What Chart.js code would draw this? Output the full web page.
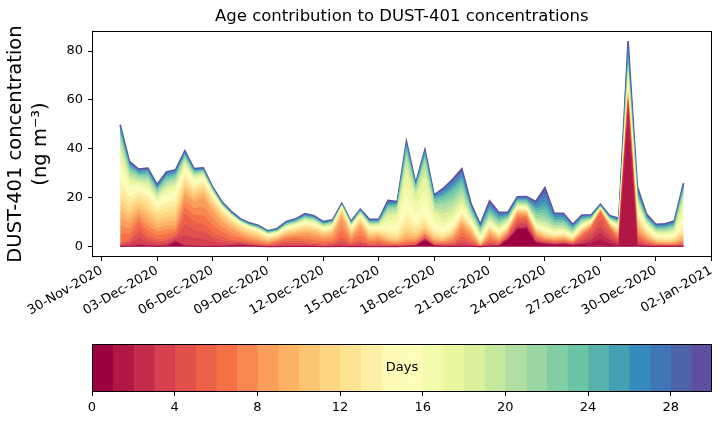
<!DOCTYPE html>
<html>
<head>
<meta charset="utf-8">
<script src="https://cdn.jsdelivr.net/npm/chart.js@4.4.1/dist/chart.umd.min.js"></script>
<style>
  html, body { margin: 0; padding: 0; background: #fff; }
  #wrap { position: relative; width: 721px; height: 425px; }
  canvas { position: absolute; left: 0; }
  #main { top: 0; }
  #bar { top: 335px; }
</style>
</head>
<body>
<div id="wrap">
  <canvas id="main" width="721" height="335"></canvas>
  <canvas id="bar" width="721" height="90"></canvas>
</div>
<script>
// 12-hourly values (ng m-3), 01-Dec-2020 00:00 to 31-Dec-2020 12:00
const startDay = 1;      // days after 30-Nov-2020
const stepDays = 0.5;

// contribution of single ages (days 0, 1, 2)
const day0 = [0.1,0.1,0.3,0.2,0.1,0.2,1.8,0.2,0.1,0.1, 0.1,0.1,0.3,0.6,0.3,0.1,0,0,0.05,0.05,
  0.05,0.05,0,0,0.05,0,0,0,0,0, 0,0.1,0.3,2.8,0.3,0.1,0.1,0.1,0.1,0,
  0.2,0.3,3.0,7.2,7.7,1.6,1.1,0.8,1.0,0.6, 0.8,0.4,0.4,0.3,0.4,1.0,0.4,0.1,0.1,0.1, 0.1,0.1];
const day1 = [0.1,0.2,0.4,0.3,0.1,0.2,0.6,0.3,0.2,0.1, 0.1,0.1,0.2,0.2,0.2,0.1,0.05,0.05,0.05,0.05,
  0.05,0.05,0.05,0.05,0.05,0.05,0.05,0.05,0.05,0.05, 0.05,0.1,0.1,0.2,0.1,0.1,0.1,0.2,0.1,0,
  0.1,0.1,0.3,0.4,0.4,0.2,0.2,0.1,0.1,0.1, 0.3,1.3,3.0,1.2,0.3,53,0.3,0.1,0.05,0.05, 0.05,0.1];
const day2 = [0.1,0.2,0.5,0.3,0.1,0.2,0.4,0.3,0.2,0.2, 0.1,0.1,0.1,0.2,0.1,0.1,0.05,0.05,0.1,0.1,
  0.1,0.1,0.05,0.05,0.1,0.05,0.05,0.05,0.05,0.05, 0.05,0.1,0.1,0.2,0.1,0.1,0.1,0.2,0.1,0.05,
  0.2,0.1,0.2,0.4,0.4,0.2,0.2,0.1,0.1,0.1, 0.4,1.3,2.6,1.5,0.3,3.0,0.3,0.1,0.05,0.05, 0.05,0.1];

// per-day contribution for each age inside a 3-day band (read per band)
const days3to5 = [0.5,0.83,2.67,1.33,1,1,0.67,4.33,3.33,3, 2,1.33,0.83,0.5,0.33,0.27,0.17,0.5,0.83,0.83,
  0.67,0.5,0.4,0.5,1.33,0.5,1,0.33,0.5,0.27, 0.2,0.33,0.33,0.4,0.27,0.27,0.4,1.33,0.67,0.03,
  0.67,0.33,0.5,1.17,1,0.67,0.33,0.33,0.33,0.2, 1,1.5,2.67,1.5,0.67,0.83,1,0.5,0.2,0.17, 0.17,0.33];
const days6to8 = [3.33,2.33,1.67,2,1.5,1.67,1.33,2.67,2.67,3.57, 2.83,2.03,1.5,1,0.83,0.67,0.4,0.5,0.67,0.83,
  1.17,1.17,0.93,1.07,2.67,0.83,1.83,0.83,0.83,0.5, 0.4,0.73,0.6,0.57,0.5,0.4,0.83,1.67,1.17,0.1,
  1,0.5,0.5,0.73,0.67,0.5,0.33,0.33,0.4,0.27, 0.5,0.33,0.27,0.4,0.67,0.5,1.17,0.67,0.33,0.23, 0.27,0.57];
const days9to11 = [2.67,2,1.67,2,1.67,1.83,2,1.5,1.33,1.5, 1.33,1.17,1,0.83,0.73,0.67,0.5,0.4,0.5,0.57,
  0.73,0.73,0.6,0.63,0.83,0.67,0.83,0.67,0.6,0.67, 0.6,1.33,0.83,0.83,0.6,0.5,0.67,0.83,0.67,0.27,
  0.67,0.5,0.4,0.4,0.4,0.43,0.53,0.4,0.4,0.3, 0.4,0.27,0.17,0.27,0.5,0.67,1.17,0.67,0.4,0.33, 0.4,0.83];
const days12to14 = [3.33,2.33,1.5,1.83,1.5,2,2.17,1.5,1.17,1, 0.83,0.67,0.6,0.5,0.47,0.47,0.4,0.33,0.43,0.47,
  0.57,0.53,0.43,0.43,0.4,0.5,0.5,0.6,0.53,1, 1.17,2.67,1.67,1.5,1,0.83,0.83,0.83,0.6,0.6,
  0.5,0.5,0.4,0.33,0.33,0.47,0.57,0.43,0.43,0.33, 0.37,0.27,0.13,0.23,0.4,1,1.17,0.67,0.5,0.5, 0.6,1.33];
const days15to17 = [3,1.33,0.83,1,0.83,1.17,1.17,1,0.67,0.53, 0.4,0.27,0.23,0.2,0.2,0.2,0.2,0.2,0.27,0.3,
  0.4,0.37,0.3,0.3,0.2,0.3,0.3,0.4,0.4,1.67, 2,5,2.83,5,2,1.67,1.5,1.17,0.6,0.53,
  0.5,0.53,0.4,0.3,0.3,0.53,0.6,0.47,0.43,0.33, 0.33,0.23,0.1,0.2,0.33,1.33,1,0.5,0.43,0.5, 0.6,2.67];
const days18to20 = [1.67,1,0.67,0.83,0.67,0.83,0.83,0.67,0.5,0.37, 0.23,0.17,0.13,0.13,0.13,0.13,0.13,0.13,0.2,0.2,
  0.27,0.27,0.23,0.23,0.13,0.2,0.2,0.27,0.27,0.83, 0.77,2,1.17,2,1.17,1.83,1.83,1.5,0.67,0.5,
  0.67,0.6,0.4,0.33,0.33,0.73,0.83,0.57,0.53,0.37, 0.33,0.2,0.1,0.17,0.27,0.83,0.67,0.4,0.33,0.4, 0.43,1.33];
const days21to23 = [1,0.83,0.5,0.67,0.53,0.67,0.67,0.5,0.37,0.27, 0.17,0.13,0.1,0.1,0.13,0.13,0.13,0.13,0.17,0.2,
  0.23,0.23,0.2,0.2,0.1,0.17,0.17,0.23,0.23,0.57, 0.43,1.17,0.57,1,0.67,1.17,1.43,1.33,0.6,0.43,
  0.67,0.57,0.33,0.33,0.33,0.83,1.33,0.67,0.63,0.4, 0.33,0.2,0.13,0.17,0.27,0.9,0.53,0.33,0.3,0.37, 0.37,0.67];
const days24to26 = [0.67,0.5,0.4,0.5,0.4,0.5,0.43,0.4,0.27,0.2, 0.17,0.17,0.13,0.13,0.13,0.17,0.13,0.17,0.17,0.2,
  0.23,0.2,0.17,0.17,0.1,0.13,0.13,0.2,0.2,0.43, 0.33,0.67,0.33,0.57,0.43,0.73,1,1.07,0.47,0.33,
  0.8,0.57,0.33,0.33,0.37,0.8,1.67,0.73,0.67,0.37, 0.33,0.2,0.13,0.17,0.27,1.5,0.53,0.33,0.3,0.33, 0.37,0.5];
const days27to29 = [0.37,0.3,0.27,0.3,0.27,0.33,0.3,0.23,0.17,0.17, 0.13,0.13,0.13,0.1,0.1,0.1,0.07,0.1,0.13,0.13,
  0.17,0.17,0.13,0.1,0.1,0.1,0.1,0.17,0.13,0.33, 0.23,0.37,0.17,0.3,0.27,0.47,0.6,0.73,0.3,0.25,
  0.6,0.43,0.27,0.23,0.27,0.53,1.37,0.3,0.33,0.23, 0.23,0.13,0.1,0.13,0.17,1.47,0.63,0.27,0.2,0.23, 0.23,0.33];

// one series per age day, 0..29
const ageSeries = [day0, day1, day2,
  days3to5, days3to5, days3to5, days6to8, days6to8, days6to8,
  days9to11, days9to11, days9to11, days12to14, days12to14, days12to14,
  days15to17, days15to17, days15to17, days18to20, days18to20, days18to20,
  days21to23, days21to23, days21to23, days24to26, days24to26, days24to26,
  days27to29, days27to29, days27to29];

const ageDays = [0,1,2,3,4,5,6,7,8,9,10,11,12,13,14,15,16,17,18,19,20,21,22,23,24,25,26,27,28,29];
const yTicks = [0, 20, 40, 60, 80];
const xTickDays = [0, 3, 6, 9, 12, 15, 18, 21, 24, 27, 30, 33];
const xTickLabels = ["30-Nov-2020", "03-Dec-2020", "06-Dec-2020", "09-Dec-2020", "12-Dec-2020", "15-Dec-2020",
  "18-Dec-2020", "21-Dec-2020", "24-Dec-2020", "27-Dec-2020", "30-Dec-2020", "02-Jan-2021"];
const barTicks = [0, 4, 8, 12, 16, 20, 24, 28];

// Spectral colormap, 30 levels
const spectralStops = ["#9e0142","#d53e4f","#f46d43","#fdae61","#fee08b","#ffffbf",
  "#e6f598","#abdda4","#66c2a5","#3288bd","#5e4fa2"];
function hexRgb(h) {
  return [parseInt(h.slice(1, 3), 16), parseInt(h.slice(3, 5), 16), parseInt(h.slice(5, 7), 16)];
}
function spectral(t) {
  const s = t * 10;
  const i = Math.min(9, Math.floor(s));
  const f = s - i;
  const a = hexRgb(spectralStops[i]), b = hexRgb(spectralStops[i + 1]);
  const c = a.map((v, j) => Math.round(v + (b[j] - v) * f));
  return `rgb(${c[0]},${c[1]},${c[2]})`;
}
const ageColors = ageDays.map(d => spectral(d / 29));

const FONT = "'DejaVu Sans', sans-serif";

const framePlugin = {
  id: "frame",
  afterDraw(chart) {
    const a = chart.chartArea;
    const ctx = chart.ctx;
    ctx.save();
    ctx.strokeStyle = "#000";
    ctx.lineWidth = 1;
    ctx.strokeRect(Math.round(a.left) + 0.5, Math.round(a.top) + 0.5,
      Math.round(a.right - a.left) - 1, Math.round(a.bottom - a.top) - 1);
    ctx.restore();
  }
};

const times = day0.map((_, i) => startDay + stepDays * i);

new Chart(document.getElementById("main"), {
  type: "line",
  data: {
    datasets: ageSeries.map((vals, k) => ({
      label: "Day " + ageDays[k],
      data: vals.map((v, i) => ({ x: times[i], y: v })),
      fill: k === 0 ? "origin" : "-1",
      backgroundColor: ageColors[k],
      borderColor: ageColors[k],
      borderWidth: k === 29 ? 1.6 : 0.6,
      pointRadius: 0,
      tension: 0
    }))
  },
  options: {
    responsive: false,
    animation: false,
    layout: { padding: { left: 0, right: 9, top: 0, bottom: 0 } },
    plugins: {
      legend: { display: false },
      tooltip: { enabled: false },
      title: {
        display: true,
        fullSize: false,
        text: "Age contribution to DUST-401 concentrations",
        color: "#000",
        font: { family: FONT, size: 16.5, weight: "normal" },
        padding: { top: 7, bottom: 4.2 }
      }
    },
    scales: {
      x: {
        type: "linear",
        min: -0.525,
        max: 33.025,
        afterBuildTicks: axis => { axis.ticks = xTickDays.map(v => ({ value: v })); },
        afterFit: axis => { axis.height = 78; },
        ticks: {
          autoSkip: false,
          maxRotation: 30,
          minRotation: 30,
          padding: 2,
          color: "#000",
          font: { family: FONT, size: 13 },
          callback: v => xTickLabels[xTickDays.indexOf(v)]
        },
        grid: { drawOnChartArea: false, drawTicks: true, tickLength: 4, tickColor: "#000", tickWidth: 1 },
        border: { display: false }
      },
      y: {
        stacked: true,
        min: -4.2,
        max: 88.2,
        afterBuildTicks: axis => { axis.ticks = yTicks.map(v => ({ value: v })); },
        afterFit: axis => { axis.width = 92; },
        ticks: { padding: 5, color: "#000", font: { family: FONT, size: 13 } },
        grid: { drawOnChartArea: false, drawTicks: true, tickLength: 4, tickColor: "#000", tickWidth: 1 },
        border: { display: false },
        title: {
          display: true,
          text: ["DUST-401 concentration", "(ng m\u207B\u00B3)"],
          color: "#000",
          font: { family: FONT, size: 19.5, lineHeight: 1.3 },
          padding: { top: 3, bottom: 4 }
        }
      }
    }
  },
  plugins: [framePlugin]
});

const daysLabelPlugin = {
  id: "daysLabel",
  afterDraw(chart) {
    const a = chart.chartArea;
    const ctx = chart.ctx;
    ctx.save();
    ctx.fillStyle = "#000";
    ctx.font = "13px " + FONT;
    ctx.textAlign = "center";
    ctx.textBaseline = "middle";
    ctx.fillText("Days", (a.left + a.right) / 2, (a.top + a.bottom) / 2);
    ctx.restore();
  }
};

new Chart(document.getElementById("bar"), {
  type: "bar",
  data: {
    labels: ["age"],
    datasets: ageDays.map((d, k) => ({
      label: "Day " + d,
      data: [1],
      backgroundColor: ageColors[k],
      borderWidth: 0,
      barPercentage: 1,
      categoryPercentage: 1
    }))
  },
  options: {
    indexAxis: "y",
    responsive: false,
    animation: false,
    layout: { padding: { left: 92, right: 9, top: 9, bottom: 0 } },
    plugins: { legend: { display: false }, tooltip: { enabled: false } },
    scales: {
      x: {
        type: "linear",
        stacked: true,
        min: 0,
        max: 30,
        afterBuildTicks: axis => { axis.ticks = barTicks.map(v => ({ value: v })); },
        afterFit: axis => { axis.height = 33; },
        ticks: { padding: 4, color: "#000", font: { family: FONT, size: 13 } },
        grid: { drawOnChartArea: false, drawTicks: true, tickLength: 4, tickColor: "#000", tickWidth: 1 },
        border: { display: false }
      },
      y: { stacked: true, display: false }
    }
  },
  plugins: [framePlugin, daysLabelPlugin]
});
</script>
</body>
</html>
